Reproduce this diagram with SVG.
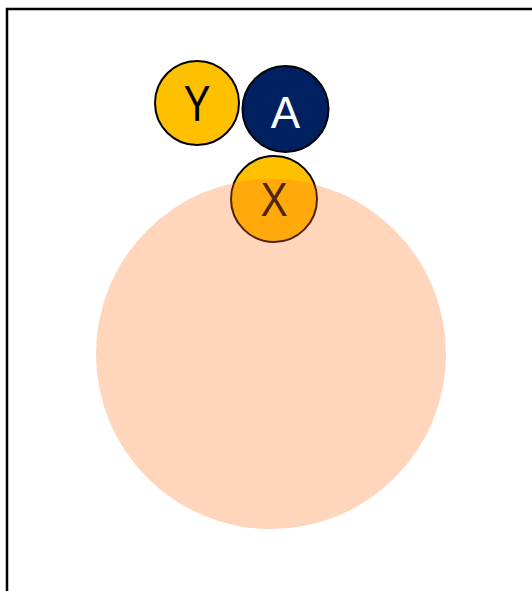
<svg xmlns="http://www.w3.org/2000/svg" width="532" height="591" viewBox="0 0 532 591">
<style>
.node circle{stroke:#000;stroke-width:2}
.node text{font-family:"Liberation Sans",Arial,sans-serif;font-size:46px;text-anchor:middle;dominant-baseline:central}
</style>
<rect x="0" y="0" width="532" height="591" fill="#fff"/>
<rect x="7" y="9" width="700" height="700" fill="none" stroke="#000" stroke-width="2.5"/>
<g id="connectors"></g>
<g id="node-Y" class="node"><circle cx="197" cy="103" r="42" fill="#FFC000"/><text transform="translate(197 104) scale(0.8 1)" style="font-size:50px" fill="#000">Y</text></g>
<g id="node-A" class="node"><circle cx="285.5" cy="109" r="43" fill="#002060"/><text x="285.5" y="112" style="font-size:44px" fill="#fff">A</text></g>
<g id="node-X" class="node"><circle cx="274" cy="199" r="43" fill="#FFC000"/><text transform="translate(274 199) scale(0.85 1)" style="font-size:48px" fill="#000">X</text></g>
<g id="region"><circle cx="271" cy="354" r="175" fill="#FF7320" fill-opacity="0.3"/></g>
</svg>
